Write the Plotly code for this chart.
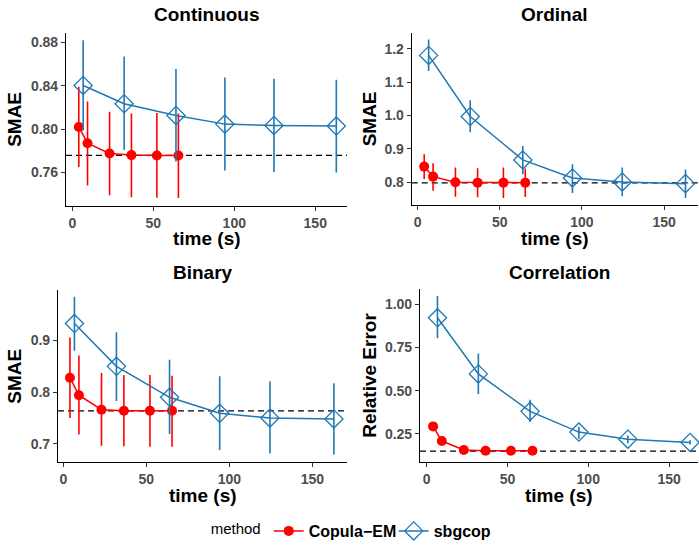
import plotly.graph_objects as go
from plotly.subplots import make_subplots

RED = '#FF0000'
BLUE = '#1F78B4'
FONT = 'Liberation Sans, Arial, sans-serif'

# times (s)
time_em = [4.0, 9.4, 23.0, 36.5, 52.2, 65.5]
time_sb = [6.7, 32.0, 64.0, 94.2, 124.5, 163.0]

panels = ['Continuous', 'Ordinal', 'Binary', 'Correlation']
ylabels = ['SMAE', 'SMAE', 'SMAE', 'Relative Error']

# Copula-EM: mean, lower, upper
em_mean = {
    'Continuous': [0.802, 0.787, 0.7775, 0.776, 0.7757, 0.7757],
    'Ordinal': [0.847, 0.817, 0.800, 0.799, 0.799, 0.799],
    'Binary': [0.828, 0.794, 0.766, 0.764, 0.764, 0.764],
    'Correlation': [0.293, 0.208, 0.156, 0.152, 0.152, 0.152],
}
em_lo = {
    'Continuous': [0.765, 0.748, 0.739, 0.737, 0.7366, 0.7363],
    'Ordinal': [0.810, 0.775, 0.757, 0.755, 0.753, 0.756],
    'Binary': [0.750, 0.718, 0.696, 0.695, 0.694, 0.694],
    'Correlation': [0.285, 0.200, 0.150, 0.147, 0.147, 0.147],
}
em_hi = {
    'Continuous': [0.839, 0.8255, 0.816, 0.8145, 0.8148, 0.8145],
    'Ordinal': [0.884, 0.857, 0.844, 0.842, 0.844, 0.841],
    'Binary': [0.906, 0.871, 0.837, 0.833, 0.833, 0.832],
    'Correlation': [0.301, 0.216, 0.162, 0.157, 0.157, 0.157],
}

# sbgcop: mean, lower, upper
sb_mean = {
    'Continuous': [0.8403, 0.8234, 0.8126, 0.8046, 0.8034, 0.8028],
    'Ordinal': [1.180, 0.997, 0.867, 0.813, 0.801, 0.796],
    'Binary': [0.933, 0.850, 0.790, 0.759, 0.750, 0.748],
    'Correlation': [0.922, 0.597, 0.380, 0.260, 0.219, 0.200],
}
sb_lo = {
    'Continuous': [0.799, 0.7806, 0.770, 0.7618, 0.7603, 0.760],
    'Ordinal': [1.133, 0.950, 0.824, 0.768, 0.758, 0.753],
    'Binary': [0.880, 0.783, 0.719, 0.688, 0.681, 0.679],
    'Correlation': [0.804, 0.481, 0.318, 0.221, 0.196, 0.188],
}
sb_hi = {
    'Continuous': [0.882, 0.867, 0.8554, 0.8477, 0.8465, 0.8455],
    'Ordinal': [1.228, 1.046, 0.909, 0.854, 0.844, 0.838],
    'Binary': [0.985, 0.916, 0.863, 0.831, 0.821, 0.817],
    'Correlation': [1.048, 0.715, 0.448, 0.291, 0.240, 0.212],
}

# dashed reference level
ref_level = {'Continuous': 0.7757, 'Ordinal': 0.798, 'Binary': 0.7635, 'Correlation': 0.150}

yticks = {
    'Continuous': ([0.76, 0.80, 0.84, 0.88], ['0.76', '0.80', '0.84', '0.88']),
    'Ordinal': ([0.8, 0.9, 1.0, 1.1, 1.2], ['0.8', '0.9', '1.0', '1.1', '1.2']),
    'Binary': ([0.7, 0.8, 0.9], ['0.7', '0.8', '0.9']),
    'Correlation': ([0.25, 0.5, 0.75, 1.0], ['0.25', '0.50', '0.75', '1.00']),
}
xticks = [0, 50, 100, 150]

# layout (pixel-derived)
W, H = 699, 548
boxes = {  # left, right, top, bottom in px
    'Continuous': (66, 347, 32.7, 206),
    'Ordinal': (411.7, 698, 32.7, 205),
    'Binary': (58, 347, 290, 462.3),
    'Correlation': (420, 698, 289.3, 462.3),
}
xranges = {
    'Continuous': [-3.9, 169.6],
    'Ordinal': [-3.6, 170.6],
    'Binary': [-3.2, 170.9],
    'Correlation': [-4.1, 167.9],
}
yranges = {
    'Continuous': [0.729, 0.889],
    'Ordinal': [0.732, 1.248],
    'Binary': [0.664, 0.998],
    'Correlation': [0.085, 1.087],
}
ytitle_x = {'Continuous': 14.5, 'Ordinal': 369.5, 'Binary': 14.5, 'Correlation': 370}
title_y = {'Continuous': 15, 'Ordinal': 15, 'Binary': 272, 'Correlation': 272}
xtitle_y = {'Continuous': 238.5, 'Ordinal': 238.5, 'Binary': 495.5, 'Correlation': 495.5}

fig = make_subplots(rows=2, cols=2)

for i, p in enumerate(panels):
    r, c = i // 2 + 1, i % 2 + 1
    first = i == 0
    fig.add_trace(go.Scatter(
        x=time_em, y=em_mean[p], mode='lines+markers', name='Copula\u2212EM',
        legendgroup='em', showlegend=first, cliponaxis=False,
        line=dict(color=RED, width=1.5),
        marker=dict(symbol='circle', size=10, color=RED),
        error_y=dict(type='data', symmetric=False,
                     array=[h - m for h, m in zip(em_hi[p], em_mean[p])],
                     arrayminus=[m - l for m, l in zip(em_mean[p], em_lo[p])],
                     color=RED, thickness=1.6, width=0),
    ), row=r, col=c)
    fig.add_trace(go.Scatter(
        x=time_sb, y=sb_mean[p], mode='lines+markers', name='sbgcop',
        legendgroup='sb', showlegend=first, cliponaxis=False,
        line=dict(color=BLUE, width=1.5),
        marker=dict(symbol='diamond-open', size=14, color=BLUE, line=dict(width=1.3)),
        error_y=dict(type='data', symmetric=False,
                     array=[h - m for h, m in zip(sb_hi[p], sb_mean[p])],
                     arrayminus=[m - l for m, l in zip(sb_mean[p], sb_lo[p])],
                     color=BLUE, thickness=1.6, width=0),
    ), row=r, col=c)

    left, right, top, bottom = boxes[p]
    ax = '' if i == 0 else str(i + 1)
    axis_common = dict(showline=True, linecolor='black', linewidth=1.1, mirror=False,
                       showgrid=False, zeroline=False, ticks='outside', ticklen=4,
                       tickcolor='#333333', tickwidth=1.1,
                       tickfont=dict(family=FONT, size=14, color='#4D4D4D', weight='bold'))
    fig.update_layout(**{
        'xaxis' + ax: dict(domain=[left / W, right / W], range=xranges[p],
                           tickvals=xticks, **axis_common),
        'yaxis' + ax: dict(domain=[1 - bottom / H, 1 - top / H], range=yranges[p],
                           tickvals=yticks[p][0], ticktext=yticks[p][1], **axis_common),
    })

    fig.add_shape(type='line', xref='x' + ax + ' domain', yref='y' + ax,
                  x0=0, x1=1, y0=ref_level[p], y1=ref_level[p],
                  line=dict(color='black', width=1.3, dash='6px,4px'), layer='below')

    cx = (left + right) / 2 / W
    fig.add_annotation(text=p, x=cx, y=1 - title_y[p] / H, xref='paper', yref='paper',
                       showarrow=False, xanchor='center', yanchor='middle',
                       font=dict(family=FONT, size=19, color='black', weight='bold'))
    fig.add_annotation(text='time (s)', x=cx, y=1 - xtitle_y[p] / H, xref='paper', yref='paper',
                       showarrow=False, xanchor='center', yanchor='middle', borderpad=0,
                       font=dict(family=FONT, size=19, color='black', weight='bold'))
    fig.add_annotation(text=ylabels[i],
                       x=ytitle_x[p] / W, y=1 - (top + bottom) / 2 / H,
                       xref='paper', yref='paper', textangle=-90,
                       showarrow=False, xanchor='center', yanchor='middle',
                       font=dict(family=FONT, size=19, color='black', weight='bold'))

fig.update_layout(
    width=W, height=H,
    margin=dict(l=0, r=0, t=0, b=0),
    plot_bgcolor='white', paper_bgcolor='white',
    font=dict(family=FONT),
    # legend kept fully inside the paper so it does not push the margins
    legend=dict(orientation='h', x=0.521, xanchor='center', y=0, yanchor='bottom',
                entrywidth=80,
                title=dict(text='method', side='left',
                           font=dict(family=FONT, size=15, color='black', weight='normal')),
                font=dict(family=FONT, size=16, color='black', weight='bold'),
                bgcolor='rgba(0,0,0,0)'),
)

# page body margin would shift the figure by 8px
fig.write_html("out.html", config={'displayModeBar': False},
               post_script="document.body.style.margin='0';")
